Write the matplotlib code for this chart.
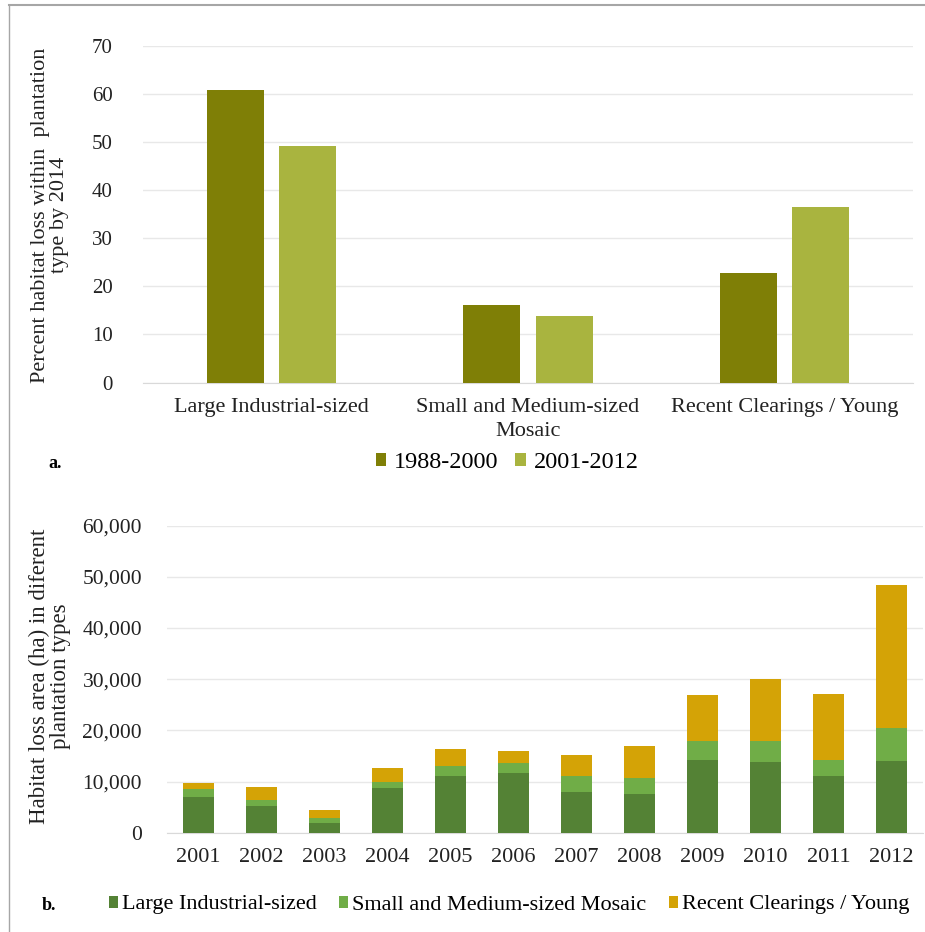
import matplotlib
matplotlib.use("Agg")
import matplotlib.pyplot as plt
import numpy as np
from matplotlib.lines import Line2D
from matplotlib.ticker import FuncFormatter

plt.rcParams['font.family'] = ['Liberation Serif', 'DejaVu Serif']

# panel a: percent habitat loss by plantation type
types = ['Large Industrial-sized', 'Small and Medium-sized\nMosaic', 'Recent Clearings / Young']
loss_1988_2000 = [60.9, 16.1, 22.7]
loss_2001_2012 = [49.3, 13.8, 36.6]

# panel b: yearly habitat loss area (ha)
years = ['2001', '2002', '2003', '2004', '2005', '2006',
         '2007', '2008', '2009', '2010', '2011', '2012']
large_ind = [7060, 5290, 1960, 8820, 11050, 11700, 7990, 7600, 14280, 13820, 11000, 14080]
small_med = [1440, 1050, 850, 1110, 1890, 1890, 3010, 3070, 3730, 4190, 3280, 6420]
recent = [1240, 2680, 1570, 2620, 3400, 2290, 4130, 6230, 8910, 12050, 12900, 27930]

c_old = '#7f7f06'
c_new = '#a9b43f'
c_large = '#548235'
c_small = '#70ad47'
c_recent = '#d4a306'
grid_c = '#e8e8e8'

fig = plt.figure(figsize=(9.25, 9.32), dpi=100)

# ---- panel a ----
ax1 = fig.add_axes([143 / 925, 1 - 382.5 / 932, 770 / 925, 336.5 / 932])
x = np.arange(len(types))
w = 0.222
ax1.bar(x - 0.141, loss_1988_2000, w, color=c_old, label='1988-2000', zorder=3)
ax1.bar(x + 0.141, loss_2001_2012, w, color=c_new, label='2001-2012', zorder=3)
ax1.set_xlim(-0.5, 2.5)
ax1.set_ylim(0, 70)
ax1.set_yticks(range(0, 71, 10))
ax1.set_xticks(x)
ax1.set_xticklabels(types, fontsize=16, color='#222222', linespacing=1.4)
ax1.tick_params(axis='y', labelsize=15, colors='#222222', length=0, pad=22)
ax1.tick_params(axis='x', length=0, pad=11)
ax1.grid(axis='y', color=grid_c, linewidth=1, zorder=0)
for s in ['top', 'right', 'left']:
    ax1.spines[s].set_visible(False)
ax1.spines['bottom'].set_color('#d9d9d9')

fig.text(50 / 925, 1 - 215 / 932, 'Percent habitat loss within  plantation\ntype by 2014',
         rotation=90, ha='center', va='center', multialignment='center',
         fontsize=16, color='#222222', linespacing=1.0)
fig.text(48 / 925, 1 - 463 / 932, 'a.', fontsize=13, fontweight='bold', va='center')
fig.legend(handles=ax1.get_legend_handles_labels()[0], labels=['1988-2000', '2001-2012'],
           loc='center', bbox_to_anchor=(507 / 925, 1 - 463 / 932), ncol=2, frameon=False,
           fontsize=17.5, handlelength=0.45, handleheight=0.45, handletextpad=0.3, columnspacing=0.7)

# ---- panel b ----
ax2 = fig.add_axes([167 / 925, 1 - 832.7 / 932, 756 / 925, 307 / 932])
xb = np.arange(len(years))
wb = 0.49
b1 = np.array(large_ind)
b2 = np.array(small_med)
b3 = np.array(recent)
ax2.bar(xb, b1, wb, color=c_large, label='Large Industrial-sized', zorder=3)
ax2.bar(xb, b2, wb, bottom=b1, color=c_small, label='Small and Medium-sized Mosaic', zorder=3)
ax2.bar(xb, b3, wb, bottom=b1 + b2, color=c_recent, label='Recent Clearings / Young', zorder=3)
ax2.set_xlim(-0.5, len(years) - 0.5)
ax2.set_ylim(0, 60000)
ax2.set_yticks(range(0, 60001, 10000))
ax2.yaxis.set_major_formatter(FuncFormatter(lambda v, p: f'{int(v):,}'))
ax2.set_xticks(xb)
ax2.set_xticklabels(years, fontsize=16, color='#222222')
ax2.tick_params(axis='y', labelsize=15.5, colors='#222222', length=0, pad=18)
ax2.tick_params(axis='x', length=0, pad=11)
ax2.grid(axis='y', color=grid_c, linewidth=1, zorder=0)
for s in ['top', 'right', 'left']:
    ax2.spines[s].set_visible(False)
ax2.spines['bottom'].set_color('#d9d9d9')

fig.text(50 / 925, 1 - 676 / 932, 'Habitat loss area (ha) in diferent\nplantation types',
         rotation=90, ha='center', va='center', multialignment='center',
         fontsize=16.5, color='#222222', linespacing=1.0)
fig.text(42 / 925, 1 - 905 / 932, 'b.', fontsize=13, fontweight='bold', va='center')
h2, l2 = ax2.get_legend_handles_labels()
fig.legend(h2, l2, loc='center', bbox_to_anchor=(509 / 925, 1 - 905 / 932), ncol=3,
           frameon=False, fontsize=16, handlelength=0.4, handleheight=0.45,
           handletextpad=0.2, columnspacing=1.0)

# outer frame (top and left edges visible)
fig.add_artist(Line2D([9 / 925, 1], [1 - 5 / 932, 1 - 5 / 932], color='#a6a6a6', lw=1.5))
fig.add_artist(Line2D([9 / 925, 9 / 925], [0, 1 - 5 / 932], color='#a6a6a6', lw=1.0))

fig.savefig('out.png', dpi=100)
